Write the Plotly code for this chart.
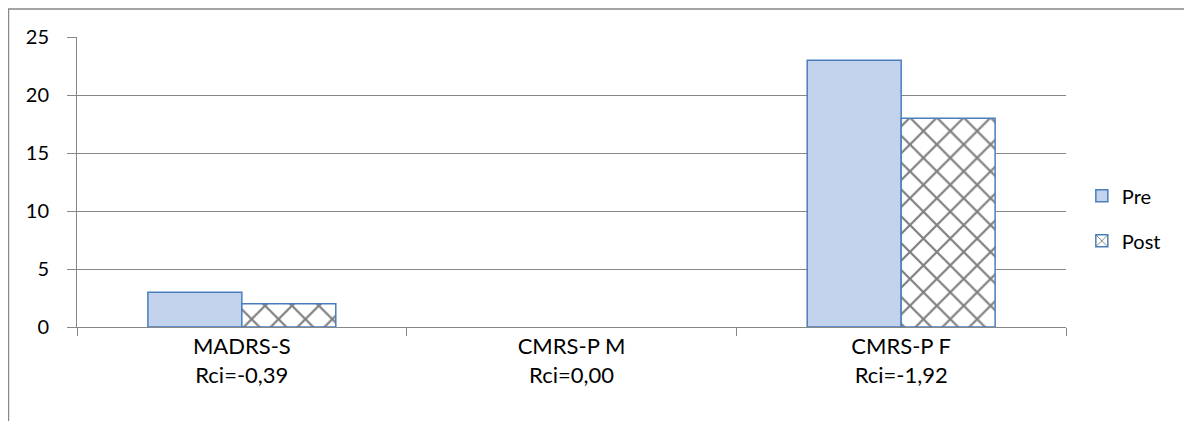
import plotly.graph_objects as go

categories = ["MADRS-S<br>Rci=-0,39", "CMRS-P M<br>Rci=0,00", "CMRS-P F<br>Rci=-1,92"]
pre_values = [3, 0, 23]
post_values = [2, 0, 18]
y_ticks = [0, 5, 10, 15, 20, 25]

FONT = "Lato, 'Open Sans', sans-serif"
BORDER = "#4a7ebb"
GRID = "#878787"

# no outline on zero-height bars
outline_pre = [1.5 if v else 0 for v in pre_values]
outline_post = [1.5 if v else 0 for v in post_values]

fig = go.Figure()
fig.add_trace(go.Bar(
    name="Pre", x=categories, y=pre_values,
    marker=dict(color="#c3d3ed", line=dict(color=BORDER, width=outline_pre)),
    legendgroup="pre",
))
fig.add_trace(go.Bar(
    name="Post", x=categories, y=post_values,
    marker=dict(color="white", line=dict(color=BORDER, width=outline_post),
                pattern=dict(shape="x", fgcolor="#000000", bgcolor="white",
                             size=19, solidity=0.22)),
    legendgroup="post",
))

# page body has an 8px margin, so the figure is sized/offset to compensate
fig.update_layout(
    width=1184, height=413,
    margin=dict(l=69, r=126, t=29, b=94),
    paper_bgcolor="white", plot_bgcolor="white",
    barmode="group", bargap=0.43, bargroupgap=0,
    font=dict(family=FONT, size=20, color="#000000"),
    showlegend=True,
    legend=dict(x=1.016, y=0.375, xanchor="left", yanchor="middle",
                font=dict(family=FONT, size=20), tracegroupgap=16,
                bgcolor="rgba(0,0,0,0)"),
    xaxis=dict(showline=True, linecolor=GRID, linewidth=1,
               ticks="outside", tickson="boundaries", ticklen=8, tickcolor=GRID,
               showgrid=False, tickfont=dict(family=FONT, size=22)),
    yaxis=dict(range=[0, 25], tickvals=y_ticks, showline=True, linecolor=GRID,
               linewidth=1, ticks="outside", ticklen=9, tickcolor=GRID,
               ticklabelstandoff=14,
               showgrid=True, gridcolor=GRID, gridwidth=1, zeroline=False,
               tickfont=dict(family=FONT, size=20)),
    shapes=[dict(type="rect", xref="paper", yref="paper",
                 x0=-0.0693, x1=1.3, y0=-0.6, y1=1.0966,
                 line=dict(color=GRID, width=1.5), fillcolor="rgba(0,0,0,0)",
                 layer="below")],
)

fig.write_html("out.html")
